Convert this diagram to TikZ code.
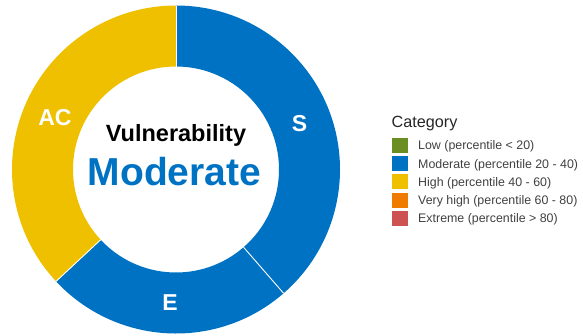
\documentclass[tikz,border=0pt]{standalone}
\usepackage{fontspec}
\setmainfont{Liberation Sans}
\usetikzlibrary{calc}
\definecolor{cblue}{RGB}{0,114,195}
\definecolor{cyellow}{RGB}{238,192,0}
\definecolor{cgreen}{RGB}{107,142,35}
\definecolor{corange}{RGB}{239,124,0}
\definecolor{cred}{RGB}{205,83,83}
\tikzset{
  seg/.style={draw=none},
  sep/.style={draw=white, line width=0.9pt},
  lbl/.style={text=white, font=\fontsize{23}{23}\selectfont\bfseries, text height=16.5pt, text depth=0pt, inner sep=0pt},
  legbox/.style={minimum width=16pt, minimum height=15pt, inner sep=0pt, anchor=west},
  legtxt/.style={font=\fontsize{12.4}{12.4}\selectfont, text=black!75, anchor=west, inner sep=0pt, text height=8.9pt, text depth=0pt},
}
\begin{document}
\begin{tikzpicture}[x=1pt,y=1pt]
\useasboundingbox (0,-335) rectangle (583,0);
\coordinate (c) at (176,-169.5);
\def\Ro{164}
\def\Ri{103}
% segments
\fill[cblue] ($(c)+(90:\Ro)$) arc[start angle=90,end angle=-49,radius=\Ro] -- ($(c)+(-49:\Ri)$) arc[start angle=-49,end angle=90,radius=\Ri] -- cycle;
\fill[cblue] ($(c)+(-49:\Ro)$) arc[start angle=-49,end angle=-137,radius=\Ro] -- ($(c)+(-137:\Ri)$) arc[start angle=-137,end angle=-49,radius=\Ri] -- cycle;
\fill[cyellow] ($(c)+(-137:\Ro)$) arc[start angle=-137,end angle=-270,radius=\Ro] -- ($(c)+(-270:\Ri)$) arc[start angle=-270,end angle=-137,radius=\Ri] -- cycle;
% separators
\coordinate (a1) at ($(c)+(90:\Ri)$);  \coordinate (b1) at ($(c)+(90:\Ro)$);
\coordinate (a2) at ($(c)+(-49:\Ri)$); \coordinate (b2) at ($(c)+(-49:\Ro)$);
\coordinate (a3) at ($(c)+(-137:\Ri)$); \coordinate (b3) at ($(c)+(-137:\Ro)$);
\draw[sep] (a1) -- (b1);
\draw[sep] (a2) -- (b2);
\draw[sep] (a3) -- (b3);
% segment labels
\node[lbl] (S) at ($(c)+(20.7:132)$) {S};
\node[lbl] (E) at ($(c)+(-92.6:132.5)$) {E};
\node[lbl] (AC) at ($(c)+(156.5:132)$) {AC};
% centre text
\node[anchor=base, inner sep=0pt, font=\fontsize{23.5}{23.5}\selectfont\bfseries] (vul) at (176,-141) {Vulnerability};
\node[anchor=base, inner sep=0pt, text=cblue, font=\fontsize{39}{39}\selectfont\bfseries] (mod) at (174.5,-185) {Moderate};
% legend
\node[anchor=base west, inner sep=0pt, font=\fontsize{16.2}{16.2}\selectfont, text=black!85] (cat) at (391.5,-127.5) {Category};
\node[legbox, fill=cgreen]  (k1) at (392,-145.3) {};
\node[legbox, fill=cblue]   (k2) at (392,-163.6) {};
\node[legbox, fill=cyellow] (k3) at (392,-181.9) {};
\node[legbox, fill=corange] (k4) at (392,-200.2) {};
\node[legbox, fill=cred]    (k5) at (392,-218.5) {};
\node[legtxt] (t1) at (418,-145.3) {Low (percentile < 20)};
\node[legtxt] (t2) at (418,-163.6) {Moderate (percentile 20 - 40)};
\node[legtxt] (t3) at (418,-181.9) {High (percentile 40 - 60)};
\node[legtxt] (t4) at (418,-200.2) {Very high (percentile 60 - 80)};
\node[legtxt] (t5) at (418,-218.5) {Extreme (percentile > 80)};
\end{tikzpicture}
\end{document}
